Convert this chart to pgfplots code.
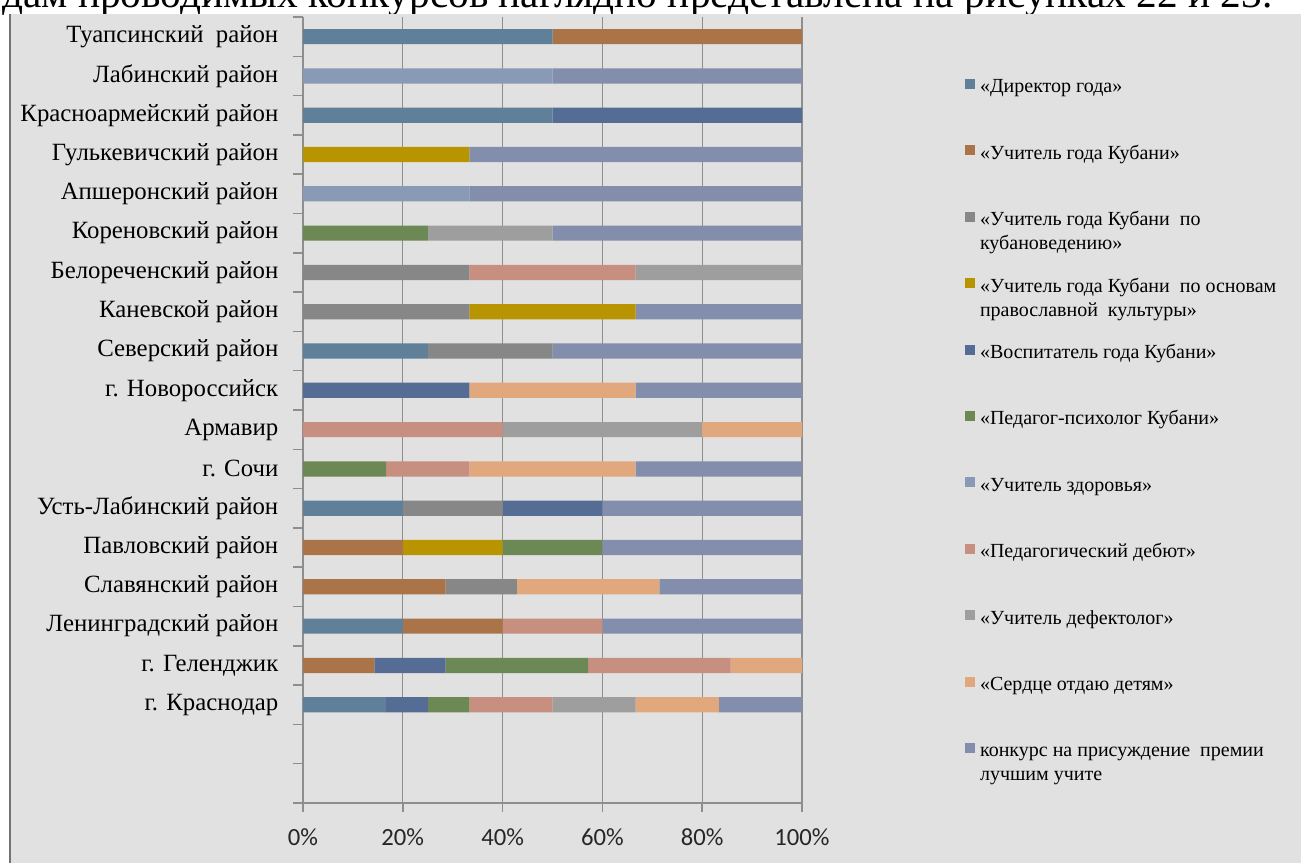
\documentclass[border=0pt]{standalone}
\usepackage{pgfplots}
\usepackage{pgfplotstable}
\pgfplotsset{compat=1.18}
\usepackage{fontspec}
\setmainfont{Liberation Serif}
\newfontfamily\calib{Carlito}
\definecolor{bggray}{HTML}{E1E1E1}
\definecolor{axgray}{HTML}{8E8E8E}
\definecolor{cdir}{HTML}{60809A}
\definecolor{cutg}{HTML}{AB7348}
\definecolor{ckub}{HTML}{878787}
\definecolor{copk}{HTML}{B89400}
\definecolor{cvos}{HTML}{556C94}
\definecolor{cpsy}{HTML}{6B8855}
\definecolor{czdr}{HTML}{889AB6}
\definecolor{cdeb}{HTML}{C78F80}
\definecolor{cdef}{HTML}{9E9E9E}
\definecolor{cser}{HTML}{E2A87D}
\definecolor{ckon}{HTML}{838DAC}
\pgfplotstableread{
y  dir    utg    kub    opk    vos    psy    zdr    deb    def    ser    kon
19 50     50     0      0      0      0      0      0      0      0      0
18 0      0      0      0      0      0      50     0      0      0      50
17 50     0      0      0      50     0      0      0      0      0      0
16 0      0      0      33.333 0      0      0      0      0      0      66.667
15 0      0      0      0      0      0      33.333 0      0      0      66.667
14 0      0      0      0      0      25     0      0      25     0      50
13 0      0      33.333 0      0      0      0      33.333 33.334 0      0
12 0      0      33.333 33.333 0      0      0      0      0      0      33.334
11 25     0      25     0      0      0      0      0      0      0      50
10 0      0      0      0      33.333 0      0      0      0      33.333 33.334
9  0      0      0      0      0      0      0      40     40     20     0
8  0      0      0      0      0      16.667 0      16.667 0      33.333 33.333
7  20     0      20     0      20     0      0      0      0      0      40
6  0      20     0      20     0      20     0      0      0      0      40
5  0      28.571 14.286 0      0      0      0      0      0      28.571 28.572
4  20     20     0      0      0      0      0      20     0      0      40
3  0      14.286 0      0      14.286 28.571 0      28.571 0      14.286 0
2  16.667 0      0      0      8.333  8.333  0      16.667 16.667 16.667 16.666
}\data
\begin{document}
\begin{tikzpicture}
\useasboundingbox (0,0) rectangle (975.75pt,647.25pt);
\node[anchor=base west, inner sep=0pt, font=\fontsize{31}{31}\selectfont] at (1.5pt,641.25pt) {дам проводимых конкурсов наглядно представлена на рисунках 22 и 23.};
\fill[bggray] (6.75pt,0) rectangle (975.75pt,636.75pt);
\draw[color=black!55, line width=1.5pt] (7.5pt,0) -- (7.5pt,636.75pt);
\begin{axis}[
  scale only axis,
  width=374.25pt, height=589.5pt,
  at={(227.25pt,45pt)}, anchor=south west,
  xbar stacked, bar width=11.4pt,
  xmin=0, xmax=100, ymin=-0.5, ymax=19.5,
  xtick={0,20,40,60,80,100},
  xticklabels={0\%,20\%,40\%,60\%,80\%,100\%},
  ytick={0,1,...,19},
  yticklabels={{},{},г. Краснодар,г. Геленджик,Ленинградский район,Славянский район,Павловский район,Усть-Лабинский район,г. Сочи,Армавир,г. Новороссийск,Северский район,Каневской район,Белореченский район,Кореновский район,Апшеронский район,Гулькевичский район,Красноармейский район,Лабинский район,Туапсинский\ \ район},
  minor ytick={-0.5,0.5,...,19.5},
  axis lines*=left,
  axis line style={draw=axgray, line width=1.1pt},
  tick align=outside,
  major tick length=6.75pt, minor tick length=7.5pt,
  tick style={draw=axgray, line width=1.1pt},
  every major y tick/.append style={opacity=0},
  xmajorgrids,
  major grid style={draw=axgray, line width=0.9pt},
  xticklabel style={font=\calib\fontsize{18.5}{18.5}\selectfont, text=black!85, yshift=-9pt},
  yticklabel style={font=\fontsize{18.6}{18.6}\selectfont, text=black, xshift=-8.25pt},
  legend style={at={(1.3267,0.922)}, anchor=north west, draw=none, fill=none,
    inner sep=0pt, outer sep=0pt, row sep=0pt, column sep=3.75pt,
    font=\fontsize{15}{18}\selectfont, cells={anchor=base west},
    nodes={inner sep=0pt, text height=11pt, text depth=38.8pt}},
  legend image code/.code={\fill[#1] (0pt,3pt) rectangle (7.5pt,10.5pt);},
]
\addplot[fill=cdir, draw=none] table[x=dir, y=y] {\data};
\addplot[fill=cutg, draw=none] table[x=utg, y=y] {\data};
\addplot[fill=ckub, draw=none] table[x=kub, y=y] {\data};
\addplot[fill=copk, draw=none] table[x=opk, y=y] {\data};
\addplot[fill=cvos, draw=none] table[x=vos, y=y] {\data};
\addplot[fill=cpsy, draw=none] table[x=psy, y=y] {\data};
\addplot[fill=czdr, draw=none] table[x=zdr, y=y] {\data};
\addplot[fill=cdeb, draw=none] table[x=deb, y=y] {\data};
\addplot[fill=cdef, draw=none] table[x=def, y=y] {\data};
\addplot[fill=cser, draw=none] table[x=ser, y=y] {\data};
\addplot[fill=ckon, draw=none] table[x=kon, y=y] {\data};
\addlegendentry{\parbox[t]{260pt}{\raggedright «Директор года»}}
\addlegendentry{\parbox[t]{260pt}{\raggedright «Учитель года Кубани»}}
\addlegendentry{\parbox[t]{260pt}{\raggedright «Учитель года Кубани\ \ по\\кубановедению»}}
\addlegendentry{\parbox[t]{260pt}{\raggedright «Учитель года Кубани\ \ по основам\\православной\ \ культуры»}}
\addlegendentry{\parbox[t]{260pt}{\raggedright «Воспитатель года Кубани»}}
\addlegendentry{\parbox[t]{260pt}{\raggedright «Педагог-психолог Кубани»}}
\addlegendentry{\parbox[t]{260pt}{\raggedright «Учитель здоровья»}}
\addlegendentry{\parbox[t]{260pt}{\raggedright «Педагогический дебют»}}
\addlegendentry{\parbox[t]{260pt}{\raggedright «Учитель дефектолог»}}
\addlegendentry{\parbox[t]{260pt}{\raggedright «Сердце отдаю детям»}}
\addlegendentry{\parbox[t]{260pt}{\raggedright конкурс на присуждение\ \ премии\\лучшим учите}}
\end{axis}
\end{tikzpicture}
\end{document}
